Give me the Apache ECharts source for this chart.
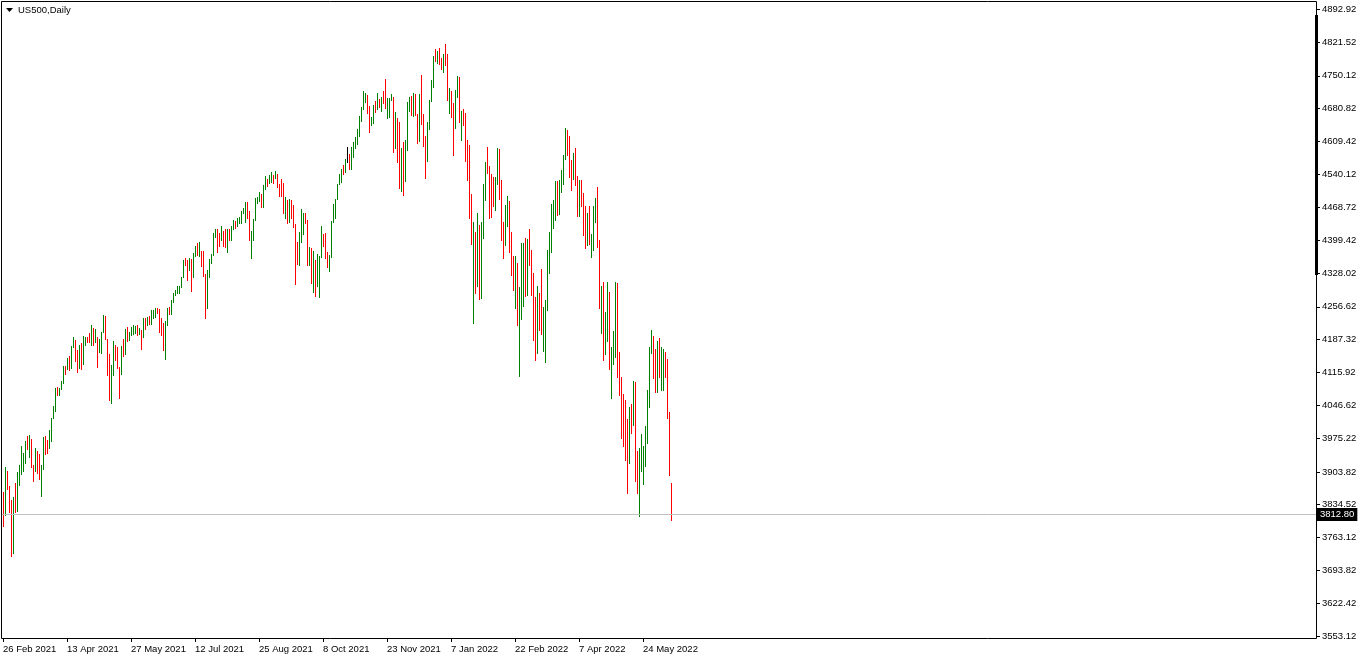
<!DOCTYPE html>
<html><head><meta charset="utf-8">
<script src="https://cdn.jsdelivr.net/npm/echarts@6/dist/echarts.min.js"></script>
<style>html,body{margin:0;padding:0;background:#fff}#chart{width:1362px;height:660px}</style>
</head><body><div id="chart"></div>
<script>
// ---------- data ----------
const symbolTitle = 'US500,Daily';
const startDate = '2021-02-26';
const closedDays = ['2021-12-24', '2022-04-15'];
const lastPrice = 3812.80;
const yTicks = [3553.12, 3622.42, 3693.82, 3763.12, 3834.52, 3903.82, 3975.22, 4046.62, 4115.92, 4187.32,
  4256.62, 4328.02, 4399.42, 4468.72, 4540.12, 4609.42, 4680.82, 4750.12, 4821.52, 4892.92];
// [open, high, low, close]
const bars2021 = [
[3839,3861,3789,3811],[3811,3914,3811,3902],[3902,3906,3868,3870],[3870,3874,3818,3820],[3820,3843,3723,3768],
[3768,3851,3730,3842],[3842,3881,3819,3821],[3821,3903,3821,3875],[3875,3918,3875,3899],[3899,3960,3899,3939],
[3939,3944,3905,3943],[3943,3970,3923,3969],[3969,3981,3953,3963],[3963,3983,3935,3974],[3974,3974,3914,3915],
[3915,3919,3885,3913],[3913,3955,3905,3941],[3941,3949,3901,3911],[3911,3942,3889,3889],[3889,3919,3853,3910],
[3910,3978,3910,3975],[3975,3981,3943,3971],[3971,3973,3944,3959],[3959,3994,3955,3973],[3973,4020,3970,4020],
[4020,4045,4018,4040],[4040,4083,4034,4078],[4078,4086,4068,4074],[4074,4083,4068,4080],[4080,4098,4080,4097],
[4097,4129,4094,4129],[4129,4131,4114,4128],[4128,4148,4124,4142],[4142,4151,4122,4125],[4125,4173,4125,4170],
[4170,4191,4170,4185],[4185,4185,4140,4163],[4163,4165,4118,4135],[4135,4175,4126,4173],[4173,4180,4123,4135],
[4135,4194,4135,4180],[4180,4191,4176,4188],[4188,4193,4181,4187],[4187,4201,4181,4183],[4183,4218,4176,4211],
[4211,4211,4175,4181],[4181,4209,4181,4193],[4193,4193,4128,4165],[4165,4187,4160,4168],[4168,4202,4157,4202],
[4202,4238,4202,4233],[4233,4236,4188,4188],[4188,4188,4111,4152],[4152,4155,4057,4063],[4063,4132,4050,4112],
[4112,4183,4110,4174],[4174,4174,4143,4163],[4163,4170,4126,4128],[4128,4128,4062,4116],[4116,4172,4112,4159],
[4159,4188,4151,4156],[4156,4209,4156,4197],[4197,4213,4183,4188],[4188,4203,4185,4196],[4196,4213,4196,4201],
[4201,4218,4198,4204],[4204,4215,4200,4210],[4210,4218,4196,4202],[4202,4212,4198,4208],[4208,4208,4167,4193],
[4193,4233,4193,4230],[4230,4232,4210,4227],[4227,4235,4217,4228],[4228,4237,4219,4220],[4220,4249,4220,4239],
[4239,4249,4232,4247],[4247,4255,4234,4255],[4255,4255,4244,4247],[4247,4252,4203,4224],[4224,4232,4196,4222],
[4222,4222,4164,4166],[4166,4226,4145,4225],[4225,4255,4217,4246],[4246,4256,4241,4242],[4242,4271,4242,4266],
[4266,4286,4266,4281],[4281,4292,4281,4291],[4291,4300,4286,4292],[4292,4302,4287,4298],[4298,4321,4298,4320],
[4320,4356,4320,4352],[4352,4360,4346,4350],[4350,4357,4313,4344],[4344,4361,4336,4358],[4358,4358,4290,4321],
[4321,4372,4321,4370],[4370,4386,4365,4385],[4385,4393,4368,4369],[4369,4394,4366,4374],[4374,4375,4343,4360],
[4360,4376,4323,4327],[4327,4327,4233,4258],[4258,4336,4255,4323],[4323,4359,4320,4359],[4359,4369,4350,4367],
[4367,4415,4367,4412],[4412,4422,4405,4422],[4422,4422,4373,4401],[4401,4415,4387,4400],[4400,4430,4400,4419],
[4419,4419,4386,4395],[4395,4422,4385,4387],[4387,4423,4373,4423],[4423,4423,4400,4403],[4403,4429,4400,4429],
[4429,4441,4422,4437],[4437,4439,4424,4432],[4432,4446,4430,4437],[4437,4449,4436,4448],[4448,4461,4435,4461],
[4461,4468,4458,4468],[4468,4480,4437,4480],[4480,4480,4447,4448],[4448,4462,4400,4400],[4400,4418,4360,4406],
[4406,4444,4400,4442],[4442,4489,4442,4480],[4480,4492,4478,4486],[4486,4502,4482,4496],[4496,4498,4469,4470],
[4470,4516,4470,4509],[4509,4537,4509,4529],[4529,4529,4515,4523],[4523,4538,4521,4524],[4524,4545,4524,4537],
[4537,4539,4522,4535],[4535,4546,4532,4541],[4541,4541,4513,4520],[4520,4520,4493,4514],[4514,4529,4493,4493],
[4493,4521,4457,4459],[4459,4492,4446,4469],[4469,4485,4435,4443],[4443,4486,4438,4481],[4481,4484,4447,4474],
[4474,4474,4427,4433],[4433,4433,4305,4358],[4358,4394,4347,4354],[4354,4416,4345,4396],[4396,4465,4396,4449],
[4449,4457,4413,4455],[4455,4457,4436,4443],[4443,4443,4346,4353],[4353,4385,4346,4359],[4359,4382,4307,4308],
[4308,4375,4288,4357],[4357,4357,4279,4300],[4300,4369,4300,4346],[4346,4365,4278,4364],[4364,4429,4364,4400],
[4400,4412,4386,4391],[4391,4415,4360,4361],[4361,4374,4342,4351],[4351,4368,4332,4364],[4364,4439,4364,4438],
[4438,4476,4438,4471],[4471,4487,4447,4486],[4486,4520,4486,4520],[4520,4540,4520,4536],[4536,4551,4524,4550],
[4550,4559,4541,4545],[4545,4572,4545,4566],[4575,4599,4566,4575],[4575,4584,4551,4552],[4552,4598,4552,4596],
[4596,4608,4577,4605],[4605,4620,4595,4614],[4614,4636,4604,4631],[4631,4664,4621,4661],[4661,4683,4654,4680],
[4680,4718,4680,4698],[4698,4714,4694,4702],[4702,4709,4671,4685],[4685,4685,4631,4647],[4647,4663,4645,4649],
[4649,4688,4649,4683],[4683,4697,4672,4682],[4682,4714,4680,4701],[4701,4701,4684,4689],[4689,4705,4676,4705],
[4705,4717,4691,4698],[4698,4743,4682,4683],[4683,4702,4659,4691],[4691,4702,4663,4701],[4701,4712,4698,4705],
[4705,4705,4587,4595],[4595,4672,4595,4655],[4655,4660,4567,4567],[4567,4652,4511,4513],[4513,4595,4505,4577],
[4577,4608,4495,4538],[4538,4612,4525,4592],[4592,4694,4592,4687],[4687,4705,4674,4701],[4701,4707,4666,4667],
[4667,4713,4664,4712],[4712,4712,4667,4669],[4669,4669,4606,4634],[4634,4712,4611,4710],[4710,4752,4647,4669],
[4669,4669,4600,4621],[4621,4621,4531,4568],[4568,4651,4568,4649],[4649,4698,4636,4697],[4697,4741,4697,4726],
[4726,4792,4726,4791],[4791,4807,4781,4786],[4786,4804,4778,4793],[4793,4809,4776,4779],[4779,4788,4765,4766]
];
const bars2022 = [
[4766,4797,4758,4797],[4797,4818,4774,4794],[4794,4797,4698,4700],[4700,4724,4671,4705],[4705,4717,4663,4677],
[4677,4693,4582,4670],[4670,4719,4638,4713],[4713,4750,4704,4726],[4726,4747,4651,4659],[4659,4676,4614,4663],
[4663,4680,4646,4655],[4655,4671,4568,4577],[4577,4612,4527,4533],[4533,4603,4447,4470],[4470,4497,4390,4398],
[4398,4437,4222,4410],[4410,4417,4285,4356],[4356,4456,4302,4362],[4362,4432,4274,4327],[4327,4437,4275,4432],
[4432,4518,4403,4516],[4516,4566,4485,4547],[4547,4598,4543,4545],[4545,4558,4447,4477],[4477,4541,4448,4472],
[4490,4534,4472,4484],[4484,4533,4464,4522],[4522,4596,4520,4587],[4587,4593,4486,4504],[4504,4528,4400,4419],
[4419,4437,4360,4402],[4402,4475,4389,4471],[4471,4493,4430,4475],[4475,4482,4374,4380],[4380,4417,4325,4349],
[4349,4366,4292,4300],[4300,4366,4255,4305],[4305,4351,4218,4226],[4226,4298,4108,4289],[4289,4392,4231,4385],
[4370,4392,4258,4374],[4374,4404,4279,4306],[4306,4402,4282,4387],[4387,4423,4346,4363],[4363,4379,4282,4329],
[4329,4329,4186,4201],[4201,4278,4142,4171],[4171,4302,4157,4278],[4278,4285,4208,4260],[4260,4338,4199,4204],
[4204,4257,4162,4213],[4213,4272,4138,4262],[4262,4377,4249,4358],[4358,4417,4328,4412],[4412,4477,4374,4463],
[4463,4484,4424,4465],[4465,4526,4441,4512],[4512,4526,4452,4456],[4456,4527,4454,4520],[4520,4548,4501,4543],
[4543,4582,4518,4576],[4576,4639,4573,4632],[4632,4635,4581,4602],[4602,4621,4533,4535],[4535,4571,4507,4530],
[4530,4586,4530,4582],[4582,4595,4516,4525],[4525,4535,4450,4481],[4481,4527,4450,4500],[4500,4527,4472,4488],
[4488,4499,4410,4413],[4413,4473,4383,4397],[4397,4456,4389,4447],[4447,4472,4390,4393],[4393,4412,4362,4395],
[4395,4473,4377,4462],[4462,4489,4438,4465],[4465,4513,4385,4394],[4394,4399,4254,4272],[4272,4302,4201,4296],
[4296,4310,4142,4175],[4175,4245,4155,4184],[4184,4310,4184,4288],[4288,4288,4124,4132],[4132,4171,4062,4155],
[4155,4204,4134,4175],[4175,4310,4150,4300],[4300,4308,4107,4147],[4147,4159,4069,4123],[4107,4107,3976,3991],
[4010,4071,3960,4001],[4001,4057,3930,3935],[3935,4016,3859,3930],[3930,4043,3922,4024],[4024,4048,3986,4008],
[4008,4098,4005,4089],[4089,4095,3885,3905],[3905,3948,3859,3901],[3901,3955,3810,3905],[3905,3985,3905,3974],
[3935,3959,3877,3941],[3941,4001,3916,3979],[3979,4079,3965,4058],[4058,4171,4043,4158],[4158,4207,4158,4195],
[4195,4195,4105,4132],[4132,4167,4075,4101],[4101,4183,4075,4177],[4177,4190,4107,4109],[4109,4171,4078,4121],
[4121,4167,4078,4161],[4161,4161,4107,4116],[4116,4146,4018,4018],[4018,4032,3897,3901],[3879,3879,3802,3812.8]
];

// ---------- styling ----------
const UP = '#008000', DOWN = '#ff0000', DOJI = '#000000';
const FONT = 'Liberation Sans, Arial, sans-serif';
const FONT_SIZE = 9.5;
const LABEL_EVERY = 32;
const TOTAL_SLOTS = 657;

const MONTHS = ['Jan','Feb','Mar','Apr','May','Jun','Jul','Aug','Sep','Oct','Nov','Dec'];
function tradingDates(start, count, skip) {
  const out = [];
  const d = new Date(start + 'T00:00:00Z');
  while (out.length < count) {
    const dow = d.getUTCDay();
    const iso = d.toISOString().slice(0, 10);
    if (dow !== 0 && dow !== 6 && skip.indexOf(iso) < 0) {
      out.push(d.getUTCDate() + ' ' + MONTHS[d.getUTCMonth()] + ' ' + d.getUTCFullYear());
    }
    d.setUTCDate(d.getUTCDate() + 1);
  }
  return out;
}

const bars = bars2021.concat(bars2022);
const dates = tradingDates(startDate, bars.length, closedDays);
const categories = dates.slice();
for (let k = categories.length; k < TOTAL_SLOTS; k++) categories.push('slot' + k);
const seriesData = bars.map((b, i) => [i, b[0], b[1], b[2], b[3]]);
const showIdx = (idx) => idx % LABEL_EVERY === 0 && idx < dates.length;

const chart = echarts.init(document.getElementById('chart'), null, { renderer: 'canvas' });
chart.setOption({
  animation: false,
  backgroundColor: '#ffffff',
  grid: { left: 2, right: 46, top: 9, bottom: 24, containLabel: false },
  xAxis: {
    type: 'category', data: categories, boundaryGap: true, offset: 2,
    axisLine: { show: false },
    axisTick: { show: true, interval: showIdx, alignWithLabel: true, length: 4, lineStyle: { color: '#000' } },
    axisLabel: { interval: showIdx, color: '#000', fontSize: FONT_SIZE, fontFamily: FONT, margin: 6, align: 'left' },
    splitLine: { show: false }
  },
  yAxis: {
    type: 'value', position: 'right', min: yTicks[0], max: yTicks[yTicks.length - 1],
    axisLine: { show: false },
    splitLine: { show: false },
    axisTick: { show: true, customValues: yTicks, length: 4, lineStyle: { color: '#000' } },
    axisLabel: { customValues: yTicks, formatter: v => Number(v).toFixed(2), color: '#000',
      fontSize: FONT_SIZE, fontFamily: FONT, margin: 6, align: 'left', padding: [3, 0, 0, 0] }
  },
  series: [{
    type: 'custom',
    data: seriesData,
    encode: { x: 0, y: [2, 3] },
    clip: false,
    renderItem: function (params, api) {
      const i = api.value(0);
      const o = api.value(1), h = api.value(2), l = api.value(3), c = api.value(4);
      const top = api.coord([i, h]);
      const bot = api.coord([i, l]);
      const x = Math.floor(top[0] + 0.01);
      const y1 = Math.round(top[1]);
      const y2 = Math.round(bot[1]);
      return {
        type: 'rect',
        shape: { x: x, y: y1, width: 1, height: Math.max(1, y2 - y1 + 1) },
        style: { fill: c > o ? UP : (c < o ? DOWN : DOJI) }
      };
    },
    markLine: {
      silent: true, symbol: ['none', 'none'], animation: false,
      data: [{ yAxis: lastPrice }],
      lineStyle: { color: '#c0c0c0', type: 'solid', width: 1 },
      label: { show: true, position: 'end', formatter: lastPrice.toFixed(2), color: '#fff',
        backgroundColor: '#000', padding: [2, 3, 1, 3], fontSize: FONT_SIZE, fontFamily: FONT, distance: 1 }
    }
  }],
  graphic: [
    { type: 'rect', silent: true, z: 10, shape: { x: 1.5, y: 1.5, width: 1315, height: 637 },
      style: { fill: null, stroke: '#000', lineWidth: 1 } },
    { type: 'rect', silent: true, z: 10, shape: { x: 1315, y: 15, width: 3, height: 260 }, style: { fill: '#000' } },
    { type: 'polygon', silent: true, z: 10, shape: { points: [[6, 8], [13, 8], [9.5, 12]] }, style: { fill: '#000' } },
    { type: 'text', silent: true, z: 10, x: 18, y: 10.5,
      style: { text: symbolTitle, fill: '#000', font: FONT_SIZE + 'px ' + FONT, textVerticalAlign: 'middle', verticalAlign: 'middle' } }
  ]
});
</script>
</body></html>
